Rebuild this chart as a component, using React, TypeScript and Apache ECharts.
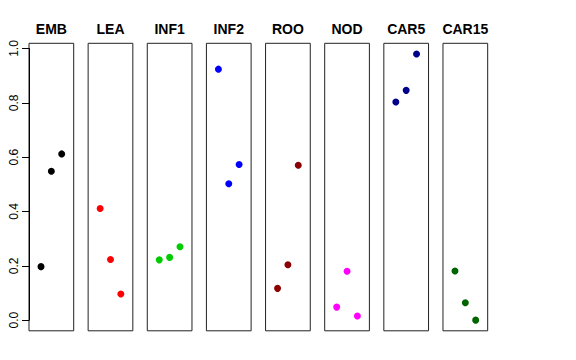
import React, { useEffect, useRef } from "react";
import * as echarts from "echarts";

const categories = ["EMB", "LEA", "INF1", "INF2", "ROO", "NOD", "CAR5", "CAR15"];
const xPositions = [1, 2, 3];
const values: number[][] = [
  [0.197, 0.548, 0.612],
  [0.411, 0.223, 0.096],
  [0.222, 0.231, 0.27],
  [0.924, 0.502, 0.573],
  [0.117, 0.204, 0.57],
  [0.048, 0.18, 0.015],
  [0.803, 0.846, 0.98],
  [0.181, 0.064, 0.0],
];
const colors = ["#000000", "#FF0000", "#00CD00", "#0000FF", "#8B0000", "#FF00FF", "#00008B", "#006400"];
const yTickLabels = ["0.0", "0.2", "0.4", "0.6", "0.8", "1.0"];

export default function App() {
  const ref = useRef<HTMLDivElement>(null);
  useEffect(() => {
    if (!ref.current) return;
    const chart = echarts.init(ref.current, null, { renderer: "svg" });
    const font = "Liberation Sans, Arial, Helvetica, sans-serif";

    const all = values.flat();
    const dmin = Math.min(...all);
    const dmax = Math.max(...all);
    const ext = (dmax - dmin) * 0.04;
    const ymin = dmin - ext;
    const ymax = dmax + ext;
    const xmin = 0 - 0.16;
    const xmax = 4 + 0.16;

    const gTop = 43.3;
    const gH = 287.5;
    const gLeft0 = 29;
    const gStep = 59.14;
    const gW = 44.7;

    const axisTop = gTop + (gH * (ymax - 1)) / (ymax - ymin);
    const axisBottom = gTop + (gH * (ymax - 0)) / (ymax - ymin);

    const grids: any[] = categories.map((_, i) => ({
      left: gLeft0 + i * gStep,
      top: gTop,
      width: gW,
      height: gH,
      show: true,
      borderColor: "#222",
      borderWidth: 1,
      backgroundColor: "transparent",
    }));
    grids.push({
      left: gLeft0,
      top: axisTop,
      width: gW,
      height: axisBottom - axisTop,
      show: false,
    });

    const xAxes: any[] = categories.map((_, i) => ({
      type: "value",
      gridIndex: i,
      min: xmin,
      max: xmax,
      show: false,
    }));
    xAxes.push({ type: "value", gridIndex: 8, min: 0, max: 1, show: false });

    const yAxes: any[] = categories.map((_, i) => ({
      type: "value",
      gridIndex: i,
      min: ymin,
      max: ymax,
      show: false,
    }));
    yAxes.push({
      type: "value",
      gridIndex: 8,
      min: 0,
      max: 1,
      interval: 0.2,
      position: "left",
      axisLine: { show: true, lineStyle: { color: "#000", width: 1 } },
      axisTick: { show: true, inside: false, length: 7, lineStyle: { color: "#000", width: 1 } },
      splitLine: { show: false },
      axisLabel: {
        show: true,
        rotate: 90,
        margin: 9,
        color: "#000",
        fontFamily: font,
        fontSize: 12,
        formatter: (v: number) => yTickLabels[Math.round(v * 5)] ?? "",
      },
    });

    const series: any[] = categories.map((c, i) => ({
      type: "scatter",
      name: c,
      xAxisIndex: i,
      yAxisIndex: i,
      symbol: "circle",
      symbolSize: 7,
      itemStyle: { color: colors[i], opacity: 1 },
      data: values[i].map((v, j) => [xPositions[j], v]),
      silent: true,
    }));

    const titles = categories.map((c, i) => ({
      text: c,
      left: gLeft0 + i * gStep + gW / 2,
      top: 22,
      textAlign: "center",
      padding: 0,
      textStyle: { fontFamily: font, fontSize: 14, fontWeight: "bold", color: "#000" },
    }));

    chart.setOption({
      animation: false,
      backgroundColor: "#fff",
      title: titles,
      grid: grids,
      xAxis: xAxes,
      yAxis: yAxes,
      series,
    });
    return () => chart.dispose();
  }, []);
  return (
    <div
      ref={ref}
      style={{ position: "fixed", left: 0, top: 0, width: 576, height: 360 }}
    />
  );
}
